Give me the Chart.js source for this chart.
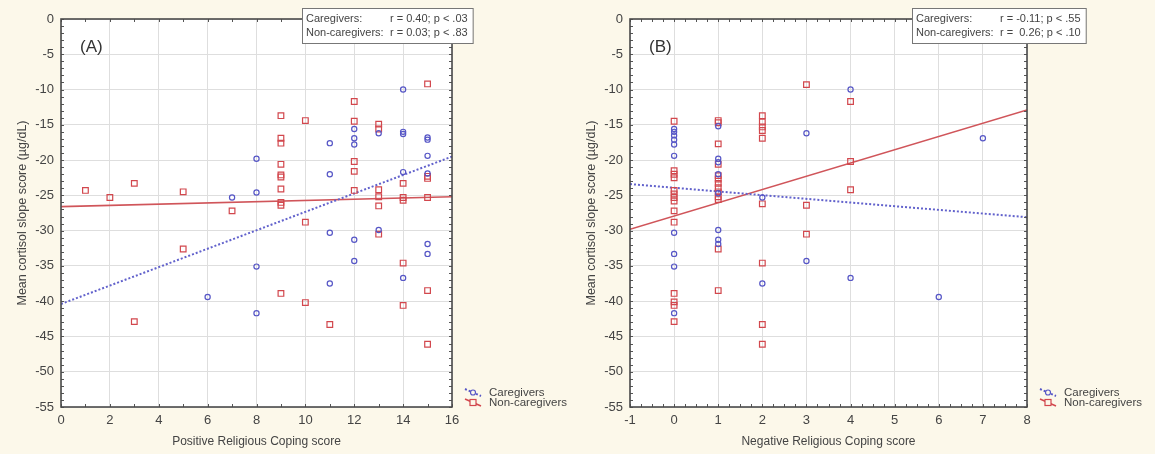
<!DOCTYPE html>
<html>
<head>
<meta charset="utf-8">
<script src="https://cdn.jsdelivr.net/npm/chart.js@4.4.1/dist/chart.umd.min.js"></script>
<style>
  html, body { margin: 0; padding: 0; background: #fcf8ea; }
  body { width: 1155px; height: 454px; position: relative; overflow: hidden; }
  canvas { position: absolute; top: 0; }
  #chartA { left: 0; }
  #chartB { left: 569px; }
</style>
</head>
<body>
<canvas id="chartA" width="578" height="454"></canvas>
<canvas id="chartB" width="586" height="454"></canvas>
<script>
// ---- Panel A: Positive Religious Coping score vs cortisol slope ----
const posCareX = [6, 7, 8, 8, 8, 8, 11, 11, 11, 11, 12, 12, 12, 12, 12, 13, 13,
                  14, 14, 14, 14, 14, 15, 15, 15, 15, 15, 15];
const posCareY = [-39.4, -25.3, -19.8, -24.6, -35.1, -41.7, -17.6, -22.0, -30.3, -37.5,
                  -15.6, -16.9, -17.8, -31.3, -34.3, -16.2, -29.9,
                  -10.0, -16.0, -16.3, -21.7, -36.7, -16.8, -17.1, -19.4, -21.9, -31.9, -33.3];
const posNonX = [1, 2, 3, 3, 5, 5, 7,
                 9, 9, 9, 9, 9, 9, 9, 9, 9, 9,
                 10, 10, 10, 11, 12, 12, 12, 12, 12,
                 13, 13, 13, 13, 13, 13, 14, 14, 14, 14, 14,
                 15, 15, 15, 15, 15, 15];
const posNonY = [-24.3, -25.3, -23.3, -42.9, -24.5, -32.6, -27.2,
                 -13.7, -16.9, -17.6, -20.6, -22.1, -22.4, -24.1, -26.0, -26.4, -38.9,
                 -14.4, -28.8, -40.2, -43.3, -11.7, -14.5, -20.2, -21.6, -24.3,
                 -14.9, -15.6, -24.2, -25.2, -26.5, -30.5, -23.3, -25.3, -25.7, -34.6, -40.6,
                 -9.2, -22.3, -22.6, -25.3, -38.5, -46.1];
// fitted lines (end points)
const posFitX = [0, 16];
const posCareFitY = [-40.4, -19.5];
const posNonFitY = [-26.6, -25.2];
const posStats = ["r = 0.40; p < .03", "r = 0.03; p < .83"];

// ---- Panel B: Negative Religious Coping score vs cortisol slope ----
const negCareX = [0, 0, 0, 0, 0, 0, 0, 0, 0, 0,
                  1, 1, 1, 1, 1, 1, 1, 1,
                  2, 2, 3, 3, 4, 4, 6, 7];
const negCareY = [-15.6, -16.0, -16.5, -17.1, -17.8, -19.4, -30.3, -33.3, -35.1, -41.7,
                  -15.2, -19.8, -20.3, -22.0, -24.7, -29.9, -31.3, -31.9,
                  -25.3, -37.5, -16.2, -34.3, -10.0, -36.7, -39.4, -16.9];
const negNonX = [0, 0, 0, 0, 0, 0, 0, 0, 0, 0, 0, 0, 0, 0,
                 1, 1, 1, 1, 1, 1, 1, 1, 1, 1, 1, 1, 1,
                 2, 2, 2, 2, 2, 2, 2, 2, 2,
                 3, 3, 3, 4, 4, 4];
const negNonY = [-14.5, -21.5, -22.0, -22.5, -24.3, -24.8, -25.3, -25.8, -27.2, -28.8, -38.9, -40.1, -40.6, -42.9,
                 -14.4, -14.7, -17.7, -20.6, -22.2, -22.7, -23.3, -23.9, -24.5, -25.2, -25.6, -32.6, -38.5,
                 -13.7, -14.6, -15.3, -15.8, -16.9, -26.2, -34.6, -43.3, -46.1,
                 -9.3, -26.4, -30.5, -11.7, -20.2, -24.2];
const negFitX = [-1, 8];
const negCareFitY = [-23.4, -28.1];
const negNonFitY = [-29.8, -12.9];
const negStats = ["r = -0.11; p < .55", "r =  0.26; p < .10"];

const seriesNames = ["Caregivers", "Non-caregivers"];
const yTitle = "Mean cortisol slope score (\u00b5g/dL)";

const BLUE = "#5656c6";
const RED = "#d2474d";
const FONT = "'Liberation Sans', Arial, sans-serif";
const TEXT = "#444";

const pts = (xs, ys) => xs.map((x, i) => ({ x: x, y: ys[i] }));

// frame, minor ticks, panel label, stats box and legend
const decor = {
    id: "decor",
    beforeDraw(chart) {
        const { ctx, chartArea: a } = chart;
        ctx.save();
        ctx.fillStyle = "#ffffff";
        ctx.fillRect(a.left, a.top, a.right - a.left, a.bottom - a.top);
        ctx.restore();
    },
    afterDraw(chart, args, o) {
        const { ctx, chartArea: a, scales } = chart;
        const xs = scales.x, ys = scales.y;
        const seg = (x1, y1, x2, y2) => { ctx.beginPath(); ctx.moveTo(x1, y1); ctx.lineTo(x2, y2); ctx.stroke(); };
        ctx.save();

        // minor ticks on all four sides
        ctx.strokeStyle = "#555";
        ctx.lineWidth = 1;
        for (let v = xs.min; v <= xs.max + 1e-9; v += o.minorX) {
            const px = Math.round(xs.getPixelForValue(v)) + 0.5;
            seg(px, a.bottom, px, a.bottom - 3);
            seg(px, a.top, px, a.top + 3);
        }
        for (let v = ys.min; v <= ys.max + 1e-9; v += o.minorY) {
            const py = Math.round(ys.getPixelForValue(v)) + 0.5;
            seg(a.left, py, a.left + 3, py);
            seg(a.right, py, a.right - 3, py);
        }
        // frame
        ctx.strokeStyle = "#4a4a4a";
        ctx.lineWidth = 1.6;
        ctx.strokeRect(a.left, a.top, a.right - a.left, a.bottom - a.top);

        // panel label
        ctx.fillStyle = "#333";
        ctx.font = "17px " + FONT;
        ctx.textBaseline = "middle";
        ctx.fillText(o.label, a.left + 19, 47);

        // stats box
        ctx.font = "11px " + FONT;
        const col = 88;
        const w = col + Math.max(ctx.measureText(o.stats[0]).width, ctx.measureText(o.stats[1]).width) + 5;
        ctx.fillStyle = "#fff";
        ctx.fillRect(o.boxLeft, 8, w, 35);
        ctx.strokeStyle = "#777";
        ctx.lineWidth = 1;
        ctx.strokeRect(o.boxLeft + 0.5, 8.5, w, 35);
        ctx.fillStyle = TEXT;
        ctx.fillText(seriesNames[0] + ":", o.boxLeft + 4, 19);
        ctx.fillText(o.stats[0], o.boxLeft + col, 19);
        ctx.fillText(seriesNames[1] + ":", o.boxLeft + 4, 33);
        ctx.fillText(o.stats[1], o.boxLeft + col, 33);

        // legend at lower right
        const lx = a.right + 13;
        const rows = [
            { y: a.bottom - 14, color: BLUE, dash: [2, 2], width: 2, shape: "circle" },
            { y: a.bottom - 4, color: RED, dash: [], width: 1.5, shape: "rect" }
        ];
        ctx.font = "11.5px " + FONT;
        rows.forEach((r, i) => {
            ctx.strokeStyle = r.color;
            ctx.lineWidth = r.width;
            ctx.setLineDash(r.dash);
            seg(lx, r.y - 4, lx + 16, r.y + 3);
            ctx.setLineDash([]);
            ctx.lineWidth = 1.2;
            ctx.fillStyle = "#fcf8ea";
            if (r.shape === "circle") {
                ctx.beginPath(); ctx.arc(lx + 8, r.y - 0.5, 2.5, 0, Math.PI * 2); ctx.fill(); ctx.stroke();
            } else {
                ctx.fillRect(lx + 5, r.y - 3.5, 6, 6); ctx.strokeRect(lx + 5, r.y - 3.5, 6, 6);
            }
            ctx.fillStyle = TEXT;
            ctx.fillText(seriesNames[i], lx + 24, r.y);
        });
        ctx.restore();
    }
};

function makeChart(id, d) {
    return new Chart(document.getElementById(id), {
        type: "scatter",
        data: {
            datasets: [
                {
                    label: seriesNames[0],
                    data: pts(d.careX, d.careY),
                    pointStyle: "circle",
                    pointRadius: 2.6,
                    borderWidth: 1.2,
                    borderColor: BLUE,
                    backgroundColor: "rgba(0,0,0,0)"
                },
                {
                    label: seriesNames[1],
                    data: pts(d.nonX, d.nonY),
                    pointStyle: "rect",
                    pointRadius: 4,
                    borderWidth: 1.2,
                    borderColor: RED,
                    backgroundColor: "rgba(0,0,0,0)"
                },
                {
                    type: "line",
                    label: seriesNames[0] + " fit",
                    data: pts(d.fitX, d.careFitY),
                    borderColor: "#6262cc",
                    borderWidth: 2,
                    borderDash: [2, 2],
                    pointRadius: 0,
                    fill: false
                },
                {
                    type: "line",
                    label: seriesNames[1] + " fit",
                    data: pts(d.fitX, d.nonFitY),
                    borderColor: "#d0555a",
                    borderWidth: 1.6,
                    pointRadius: 0,
                    fill: false
                }
            ]
        },
        options: {
            responsive: false,
            animation: false,
            layout: { padding: { top: 19, right: d.padRight, left: 0, bottom: 0 } },
            plugins: {
                legend: { display: false },
                tooltip: { enabled: false },
                decor: { label: d.label, stats: d.stats, boxLeft: d.boxLeft, minorX: d.minorX, minorY: 1 }
            },
            scales: {
                x: {
                    type: "linear",
                    min: d.xMin, max: d.xMax,
                    ticks: { stepSize: d.xStep, color: TEXT, padding: 6, font: { family: FONT, size: 13 } },
                    grid: { color: "#dedede", drawTicks: false },
                    border: { display: false },
                    title: { display: true, text: d.xTitle, color: TEXT, font: { family: FONT, size: 12 }, padding: { top: 0, bottom: 5 } },
                    afterFit: (s) => { s.height = 47; }
                },
                y: {
                    min: -55, max: 0,
                    ticks: { stepSize: 5, color: TEXT, padding: 7, font: { family: FONT, size: 13 } },
                    grid: { color: "#dedede", drawTicks: false },
                    border: { display: false },
                    title: { display: true, text: yTitle, color: TEXT, font: { family: FONT, size: 12.5 }, padding: { top: 15, bottom: 0 } },
                    afterFit: (s) => { s.width = 61; }
                }
            }
        },
        plugins: [decor]
    });
}

makeChart("chartA", {
    careX: posCareX, careY: posCareY, nonX: posNonX, nonY: posNonY,
    fitX: posFitX, careFitY: posCareFitY, nonFitY: posNonFitY,
    stats: posStats, label: "(A)", xTitle: "Positive Religious Coping score",
    xMin: 0, xMax: 16, xStep: 2, minorX: 1, padRight: 126, boxLeft: 302
});

makeChart("chartB", {
    careX: negCareX, careY: negCareY, nonX: negNonX, nonY: negNonY,
    fitX: negFitX, careFitY: negCareFitY, nonFitY: negNonFitY,
    stats: negStats, label: "(B)", xTitle: "Negative Religious Coping score",
    xMin: -1, xMax: 8, xStep: 1, minorX: 0.25, padRight: 128, boxLeft: 343
});
</script>
</body>
</html>
